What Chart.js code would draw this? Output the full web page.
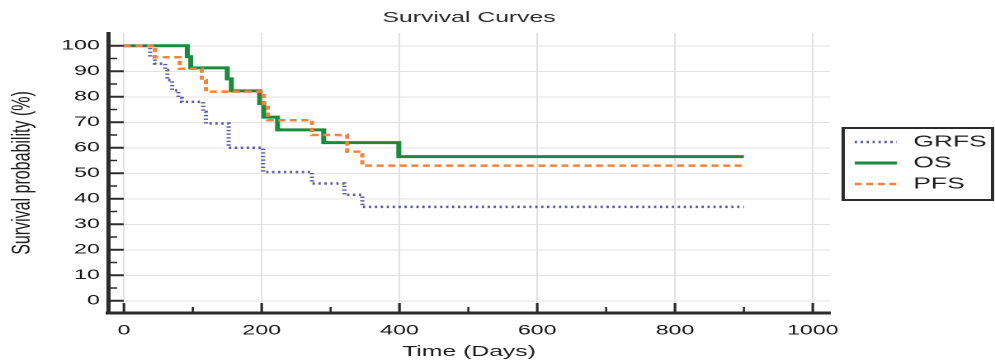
<!DOCTYPE html>
<html>
<head>
<meta charset="utf-8">
<script src="https://cdn.jsdelivr.net/npm/chart.js@4.4.1/dist/chart.umd.min.js"></script>
<style>
  html, body { margin: 0; padding: 0; background: #fff; overflow: hidden; }
  /* the drawing is laid out on a narrower canvas and widened on screen */
  #plot { display: block; width: 995px !important; height: 363px !important; }
</style>
</head>
<body>
<canvas id="plot" width="603" height="363" style="width:995px;height:363px"></canvas>
<script>
// Kaplan-Meier estimates: day of each step and survival (%) after it
const grfsDays = [0, 38, 45, 60, 63, 70, 79, 84, 115, 119, 152, 202, 273, 320, 346, 900];
const grfsSurv = [100, 95.5, 93, 90.5, 86.5, 82.5, 79.5, 78, 74, 69.5, 60, 50.5, 46, 41.5, 36.8, 36.8];

const osDays = [0, 92, 97, 150, 156, 197, 203, 223, 290, 399, 900];
const osSurv = [100, 95.7, 91.3, 87, 82.3, 77.3, 72, 67, 62, 56.5, 56.5];

const pfsDays = [0, 45, 81, 113, 119, 203, 209, 273, 324, 346, 900];
const pfsSurv = [100, 95.5, 91, 86.5, 82, 76, 70.8, 65, 58.5, 53, 53];

const seriesNames = ['GRFS', 'OS', 'PFS'];

// axis ticks
const xTicks = [0, 200, 400, 600, 800, 1000];
const xMinorTicks = [100, 300, 500, 700, 900];
const yTicks = [0, 10, 20, 30, 40, 50, 60, 70, 80, 90, 100];
const yMinorTicks = [5, 15, 25, 35, 45, 55, 65, 75, 85, 95];

const FONT = '"Liberation Sans", Arial, sans-serif';
const INK = '#2b2b2b';

const toPoints = (days, surv) => days.map((d, i) => ({ x: d, y: surv[i] }));

const datasets = [
  {
    label: seriesNames[0],
    data: toPoints(grfsDays, grfsSurv),
    borderColor: '#5a5aa8',
    borderWidth: 2.5,
    borderDash: [1.4, 2.2],
    order: 1
  },
  {
    label: seriesNames[1],
    data: toPoints(osDays, osSurv),
    borderColor: '#1b8a3c',
    borderWidth: 3,
    borderDash: [],
    order: 2
  },
  {
    label: seriesNames[2],
    data: toPoints(pfsDays, pfsSurv),
    borderColor: '#f0843c',
    borderWidth: 2.5,
    borderDash: [4.2, 2.8],
    order: 0
  }
].map(ds => Object.assign(ds, { stepped: 'before', pointRadius: 0, fill: false, tension: 0 }));

// short tick marks that point into the plot
const innerTicks = {
  id: 'innerTicks',
  beforeDatasetsDraw(chart) {
    const { ctx, chartArea: a, scales: { x, y } } = chart;
    ctx.save();
    ctx.strokeStyle = INK;
    const seg = (x1, y1, x2, y2) => { ctx.beginPath(); ctx.moveTo(x1, y1); ctx.lineTo(x2, y2); ctx.stroke(); };
    ctx.lineWidth = 2;
    yTicks.forEach(v => { const p = y.getPixelForValue(v); seg(a.left, p, a.left + 9.5, p); });
    ctx.lineWidth = 1.5;
    yMinorTicks.forEach(v => { const p = y.getPixelForValue(v); seg(a.left, p, a.left + 5.5, p); });
    ctx.lineWidth = 1.6;
    xTicks.forEach(v => { const p = x.getPixelForValue(v); seg(p, a.bottom, p, a.bottom - 10); });
    ctx.lineWidth = 1.3;
    xMinorTicks.forEach(v => { const p = x.getPixelForValue(v); seg(p, a.bottom, p, a.bottom - 6); });
    ctx.restore();
  }
};

// boxed legend to the right of the plot
const boxedLegend = {
  id: 'boxedLegend',
  afterDraw(chart) {
    const ctx = chart.ctx;
    const left = 511, top = 128, width = 90.5, height = 72;
    ctx.save();
    ctx.lineWidth = 2;
    ctx.strokeStyle = INK;
    ctx.strokeRect(left, top, width, height);
    ctx.font = '16px ' + FONT;
    ctx.textBaseline = 'middle';
    ctx.textAlign = 'left';
    chart.data.datasets.forEach((ds, i) => {
      const rowY = top + 14 + i * 21;
      ctx.save();
      ctx.strokeStyle = ds.borderColor;
      ctx.lineWidth = ds.borderWidth;
      ctx.setLineDash(ds.borderDash || []);
      ctx.beginPath();
      ctx.moveTo(left + 7, rowY);
      ctx.lineTo(left + 32.5, rowY);
      ctx.stroke();
      ctx.restore();
      ctx.fillStyle = '#1e1e1e';
      ctx.fillText(ds.label, left + 42.5, rowY);
    });
    ctx.restore();
  }
};

new Chart(document.getElementById('plot'), {
  type: 'line',
  data: { datasets },
  plugins: [innerTicks, boxedLegend],
  options: {
    responsive: false,
    animation: false,
    devicePixelRatio: 2,
    layout: { padding: { left: 0, right: 100, top: 0, bottom: 0 } },
    plugins: {
      legend: { display: false },
      tooltip: { enabled: false },
      title: {
        display: true,
        text: 'Survival Curves',
        fullSize: false,
        color: '#2a2a2a',
        font: { family: FONT, size: 15, weight: 'normal' },
        padding: { top: 9, bottom: 6 }
      }
    },
    scales: {
      x: {
        type: 'linear',
        min: -23,
        max: 1025,
        afterBuildTicks: s => { s.ticks = xTicks.map(v => ({ value: v })); },
        afterFit: s => { s.height = 50; },
        grid: { color: '#e2e2e2', lineWidth: 1, drawTicks: false },
        border: { color: INK, width: 3 },
        ticks: {
          padding: 9,
          color: '#141414',
          font: { family: FONT, size: 14 },
          callback: v => String(v)
        },
        title: {
          display: true,
          text: 'Time (Days)',
          color: '#1e1e1e',
          font: { family: FONT, size: 15 },
          padding: { top: 0, bottom: 2 }
        }
      },
      y: {
        type: 'linear',
        min: -4.8,
        max: 105,
        afterBuildTicks: s => { s.ticks = yTicks.map(v => ({ value: v })); },
        afterFit: s => { s.width = 65.5; },
        grid: { color: '#e2e2e2', lineWidth: 1, drawTicks: false },
        border: { color: INK, width: 2.5 },
        ticks: {
          padding: 5,
          color: '#141414',
          font: { family: FONT, size: 14 },
          callback: v => String(v)
        },
        title: {
          display: true,
          text: 'Survival probability (%)',
          color: '#1e1e1e',
          font: { family: FONT, size: 16 },
          padding: { top: 4, bottom: 0 }
        }
      }
    }
  }
});
</script>
</body>
</html>
